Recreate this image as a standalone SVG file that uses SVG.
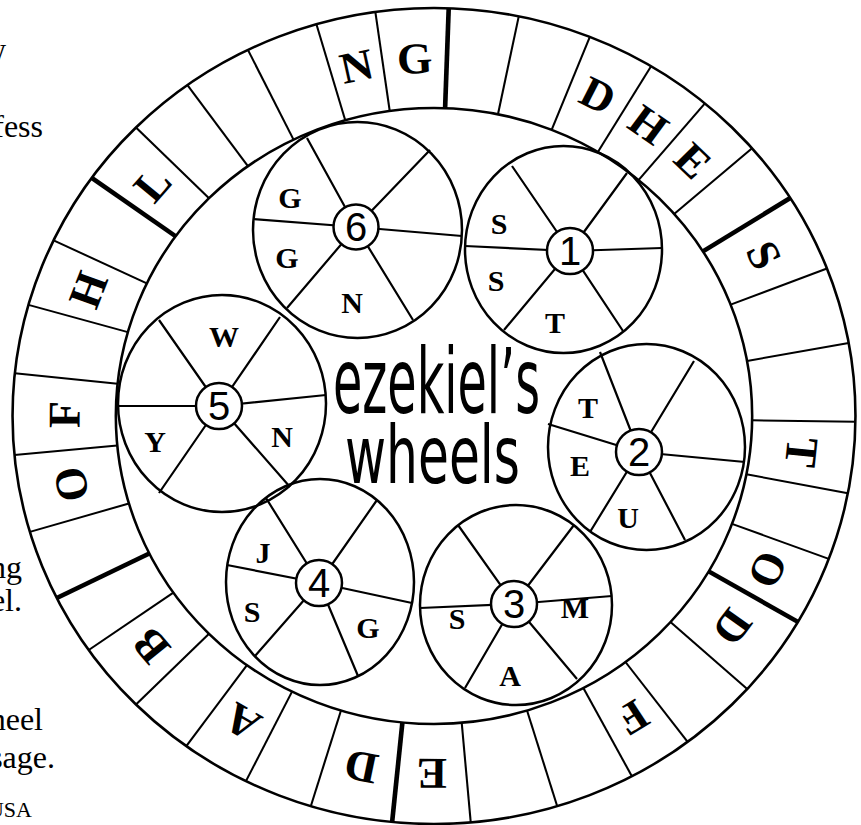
<svg xmlns="http://www.w3.org/2000/svg" width="861" height="825" viewBox="0 0 861 825">
<style>
.ol{fill:none;stroke:#000;stroke-width:2.5}
.dv{stroke:#000;stroke-width:2}
.tk{stroke:#000;stroke-width:4.5}
.sp{stroke:#000;stroke-width:2.2}
.hub{fill:#fff;stroke:#000;stroke-width:2.5}
.rl{font-family:"Liberation Serif",serif;font-weight:bold;font-size:44px;text-anchor:middle}
.wl{font-family:"Liberation Serif",serif;font-weight:bold;font-size:30px;text-anchor:middle}
.num{font-family:"Liberation Sans",sans-serif;font-size:40px;text-anchor:middle}
.side{font-family:"Liberation Serif",serif;font-size:32px;text-anchor:end}
.title{font-family:"DejaVu Sans Condensed","DejaVu Sans",sans-serif}
</style>
<rect width="861" height="825" fill="#fff"/>
<g id="side-text">
<text class="side" x="6" y="60">w</text>
<text class="side" x="43" y="137">fess</text>
<text class="side" x="22" y="578">ng</text>
<text class="side" x="22" y="611">el.</text>
<text class="side" x="43" y="730">heel</text>
<text class="side" x="55" y="768">sage.</text>
<text x="32" y="817" font-family="Liberation Serif,serif" font-size="22" text-anchor="end">USA</text>
</g>
<g id="ring" transform="translate(434,416) scale(1.033,1)">
<circle class="ol" r="408" fill="#fff"/>
<circle class="ol" r="308"/>
<g id="dividers">
<line class="tk" y1="-308" y2="-408" transform="rotate(2)"/>
<line class="dv" y1="-308" y2="-408" transform="rotate(11.6)"/>
<line class="dv" y1="-308" y2="-408" transform="rotate(21.7)"/>
<line class="dv" y1="-308" y2="-408" transform="rotate(31)"/>
<line class="dv" y1="-308" y2="-408" transform="rotate(40)"/>
<line class="dv" y1="-308" y2="-408" transform="rotate(49)"/>
<line class="tk" y1="-308" y2="-408" transform="rotate(57.7)"/>
<line class="dv" y1="-308" y2="-408" transform="rotate(68.8)"/>
<line class="dv" y1="-308" y2="-408" transform="rotate(79.7)"/>
<line class="dv" y1="-308" y2="-408" transform="rotate(90.8)"/>
<line class="dv" y1="-308" y2="-408" transform="rotate(100.9)"/>
<line class="dv" y1="-308" y2="-408" transform="rotate(110.5)"/>
<line class="tk" y1="-308" y2="-408" transform="rotate(120.3)"/>
<line class="dv" y1="-308" y2="-408" transform="rotate(132)"/>
<line class="dv" y1="-308" y2="-408" transform="rotate(143)"/>
<line class="dv" y1="-308" y2="-408" transform="rotate(152)"/>
<line class="dv" y1="-308" y2="-408" transform="rotate(163)"/>
<line class="dv" y1="-308" y2="-408" transform="rotate(175)"/>
<line class="tk" y1="-308" y2="-408" transform="rotate(185.7)"/>
<line class="dv" y1="-308" y2="-408" transform="rotate(197)"/>
<line class="dv" y1="-308" y2="-408" transform="rotate(206.5)"/>
<line class="dv" y1="-308" y2="-408" transform="rotate(216)"/>
<line class="dv" y1="-308" y2="-408" transform="rotate(225)"/>
<line class="dv" y1="-308" y2="-408" transform="rotate(235)"/>
<line class="tk" y1="-308" y2="-408" transform="rotate(243.5)"/>
<line class="dv" y1="-308" y2="-408" transform="rotate(253.5)"/>
<line class="dv" y1="-308" y2="-408" transform="rotate(264.5)"/>
<line class="dv" y1="-308" y2="-408" transform="rotate(276)"/>
<line class="dv" y1="-308" y2="-408" transform="rotate(285.8)"/>
<line class="dv" y1="-308" y2="-408" transform="rotate(295.5)"/>
<line class="tk" y1="-308" y2="-408" transform="rotate(305.7)"/>
<line class="dv" y1="-308" y2="-408" transform="rotate(315)"/>
<line class="dv" y1="-308" y2="-408" transform="rotate(324.2)"/>
<line class="dv" y1="-308" y2="-408" transform="rotate(333.8)"/>
<line class="dv" y1="-308" y2="-408" transform="rotate(343.8)"/>
<line class="dv" y1="-308" y2="-408" transform="rotate(352)"/>
</g>
<g id="ring-letters">
<text class="rl" transform="rotate(26.35) translate(0,-343)">D</text>
<text class="rl" transform="rotate(35.5) translate(0,-343)">H</text>
<text class="rl" transform="rotate(44.5) translate(0,-343)">E</text>
<text class="rl" transform="rotate(63.25) translate(0,-343)">S</text>
<text class="rl" transform="rotate(95.85) translate(0,-343)">T</text>
<text class="rl" transform="rotate(115.4) translate(0,-343)">O</text>
<text class="rl" transform="rotate(126.15) translate(0,-343)">D</text>
<text class="rl" transform="rotate(147.5) translate(0,-343)">F</text>
<text class="rl" transform="rotate(180.35) translate(0,-343)">E</text>
<text class="rl" transform="rotate(191.35) translate(0,-343)">D</text>
<text class="rl" transform="rotate(211.25) translate(0,-343)">A</text>
<text class="rl" transform="rotate(230) translate(0,-343)">B</text>
<text class="rl" transform="rotate(259) translate(0,-343)">O</text>
<text class="rl" transform="rotate(270.25) translate(0,-343)">F</text>
<text class="rl" transform="rotate(290.65) translate(0,-343)">H</text>
<text class="rl" transform="rotate(310.35) translate(0,-343)">L</text>
<text class="rl" transform="rotate(347.9) translate(0,-343)">N</text>
<text class="rl" transform="rotate(357) translate(0,-343)">G</text>
</g>
</g>
<g id="wheel1">
<ellipse class="ol" cx="563.5" cy="249.5" rx="98.5" ry="103.5"/>
<path class="sp" d="M570 251L512 166M570 251L627 173M570 251L465 246M570 251L662 248M570 251L504 330M570 251L623 331"/>
<circle class="hub" cx="570" cy="251" r="23"/>
<text class="num" x="570" y="265">1</text>
<text class="wl" x="499" y="234">S</text>
<text class="wl" x="496" y="291">S</text>
<text class="wl" x="555" y="333">T</text>
</g>
<g id="wheel2">
<ellipse class="ol" cx="646.5" cy="447" rx="98.5" ry="103"/>
<path class="sp" d="M639 452L600 352M639 452L694 361M639 452L548 424M639 452L745 462M639 452L590 532M639 452L685 540"/>
<circle class="hub" cx="639" cy="452" r="23"/>
<text class="num" x="639" y="466">2</text>
<text class="wl" x="588" y="418">T</text>
<text class="wl" x="580" y="476">E</text>
<text class="wl" x="628" y="528">U</text>
</g>
<g id="wheel3">
<ellipse class="ol" cx="516" cy="605" rx="96" ry="100"/>
<path class="sp" d="M514 604L458 525M514 604L574 525M514 604L420 608M514 604L612 596M514 604L465 688M514 604L577 679"/>
<circle class="hub" cx="514" cy="604" r="23"/>
<text class="num" x="514" y="618">3</text>
<text class="wl" x="457" y="629">S</text>
<text class="wl" x="575" y="618">M</text>
<text class="wl" x="510" y="686">A</text>
</g>
<g id="wheel4">
<ellipse class="ol" cx="320" cy="582" rx="94" ry="103"/>
<path class="sp" d="M319 583L266 498M319 583L377 500M319 583L227 565M319 583L412 603M319 583L255 656M319 583L358 676"/>
<circle class="hub" cx="319" cy="583" r="23"/>
<text class="num" x="319" y="597">4</text>
<text class="wl" x="263" y="563">J</text>
<text class="wl" x="252" y="622">S</text>
<text class="wl" x="368" y="638">G</text>
</g>
<g id="wheel5">
<ellipse class="ol" cx="222" cy="403.5" rx="104" ry="108.5"/>
<path class="sp" d="M219 406L159 320M219 406L280 317M219 406L118 406M219 406L326 395M219 406L159 493M219 406L290 487"/>
<circle class="hub" cx="219" cy="406" r="23"/>
<text class="num" x="219" y="420">5</text>
<text class="wl" x="224" y="347">W</text>
<text class="wl" x="155" y="452">Y</text>
<text class="wl" x="282" y="447">N</text>
</g>
<g id="wheel6">
<ellipse class="ol" cx="357.5" cy="230" rx="104.5" ry="108"/>
<path class="sp" d="M356 227L307 138M356 227L430 150M356 227L253 219M356 227L462 236M356 227L287 308M356 227L413 320"/>
<circle class="hub" cx="356" cy="227" r="22.5"/>
<text class="num" x="356" y="241">6</text>
<text class="wl" x="290" y="208">G</text>
<text class="wl" x="287" y="268">G</text>
<text class="wl" x="352" y="313">N</text>
</g>
<g id="title">
<text class="title" x="333" y="413" font-size="90" textLength="207" lengthAdjust="spacingAndGlyphs">ezekiel’s</text>
<text class="title" x="345" y="483" font-size="80" textLength="175" lengthAdjust="spacingAndGlyphs">wheels</text>
</g>
</svg>
